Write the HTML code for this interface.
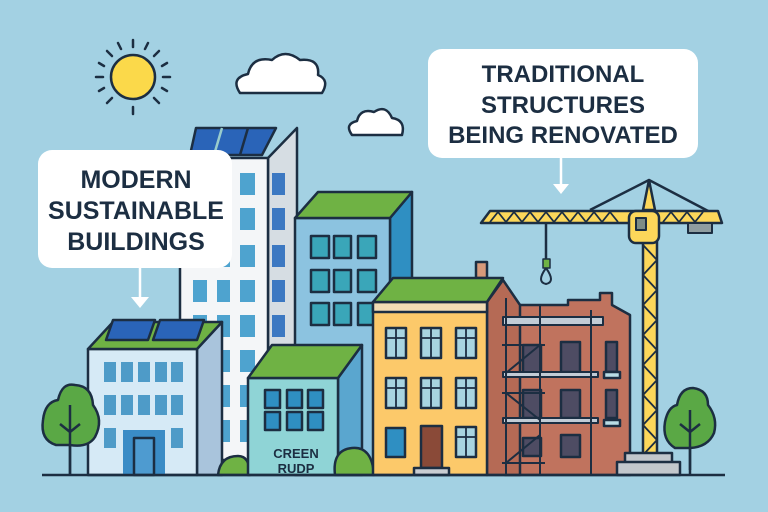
<!DOCTYPE html>
<html><head><style>
html,body{margin:0;padding:0;background:#a3d1e3;}
svg{display:block}
text{font-family:"Liberation Sans",sans-serif;font-weight:bold;fill:#1c2e42;text-anchor:middle}
</style></head><body>
<svg width="768" height="512" viewBox="0 0 768 512" xmlns="http://www.w3.org/2000/svg" stroke-linejoin="round">
<rect width="768" height="512" fill="#a3d1e3"/>
<!-- sun -->
<g stroke="#1c2e42" stroke-width="2.5" stroke-linecap="round">
<line x1="133" y1="40" x2="133" y2="47"/><line x1="133" y1="107" x2="133" y2="114"/>
<line x1="96" y1="77" x2="103" y2="77"/><line x1="163" y1="77" x2="170" y2="77"/>
<line x1="107" y1="51" x2="112" y2="56"/><line x1="154" y1="98" x2="159" y2="103"/>
<line x1="159" y1="51" x2="154" y2="56"/><line x1="112" y1="98" x2="107" y2="103"/>
<line x1="118" y1="43" x2="121" y2="49"/><line x1="148" y1="43" x2="145" y2="49"/>
<line x1="99" y1="63" x2="104" y2="66"/><line x1="167" y1="63" x2="162" y2="66"/>
<line x1="99" y1="91" x2="104" y2="88"/><line x1="167" y1="91" x2="162" y2="88"/>
<circle cx="133" cy="77" r="22" fill="#fbd94a"/>
</g>
<!-- clouds -->
<path d="M240 93 Q230 78 248 74 Q252 56 272 60 Q285 48 300 60 Q320 58 318 75 Q330 80 322 93 Z" fill="#fff" stroke="#1c2e42" stroke-width="2.5"/>
<path d="M352 135 Q344 124 357 121 Q360 108 374 112 Q386 104 392 118 Q406 120 402 135 Z" fill="#fff" stroke="#1c2e42" stroke-width="2.5"/>
<g stroke="#1c2e42" stroke-width="2.5">
<!-- tall tower -->
<polygon points="268,158 297,128 297,460 268,460" fill="#d6dde3"/>
<rect x="180" y="158" width="88" height="302" fill="#f4f6f8"/>
<polygon points="196,128 276,128 262,155 190,155" fill="#2a64b8"/>
<line x1="222" y1="128" x2="214" y2="155" stroke="#9cc"/><line x1="248" y1="128" x2="240" y2="155"/>
</g>
<g fill="#4ea3cf">
<rect x="193" y="173" width="14" height="22"/><rect x="217" y="173" width="13" height="22"/><rect x="240" y="173" width="15" height="22"/>
<rect x="193" y="208" width="14" height="22"/><rect x="217" y="208" width="13" height="22"/><rect x="240" y="208" width="15" height="22"/>
<rect x="193" y="245" width="14" height="22"/><rect x="217" y="245" width="13" height="22"/><rect x="240" y="245" width="15" height="22"/>
<rect x="193" y="280" width="14" height="22"/><rect x="217" y="280" width="13" height="22"/><rect x="240" y="280" width="15" height="22"/>
<rect x="193" y="315" width="14" height="22"/><rect x="217" y="315" width="13" height="22"/><rect x="240" y="315" width="15" height="22"/>
<rect x="217" y="350" width="13" height="22"/><rect x="240" y="350" width="15" height="22"/>
<rect x="217" y="385" width="13" height="22"/><rect x="240" y="385" width="15" height="22"/>
<rect x="217" y="420" width="13" height="22"/><rect x="240" y="420" width="15" height="22"/>
</g>
<g fill="#3c78c2">
<rect x="272" y="173" width="13" height="22"/><rect x="272" y="208" width="13" height="22"/><rect x="272" y="245" width="13" height="22"/><rect x="272" y="280" width="13" height="22"/><rect x="272" y="315" width="13" height="22"/>
</g>
<!-- teal modern building -->
<g stroke="#1c2e42" stroke-width="2.5">
<polygon points="390,218 412,192 412,475 390,475" fill="#2f8fc2"/>
<rect x="295" y="218" width="95" height="257" fill="#8cc3e0"/>
<polygon points="295,218 318,192 412,192 390,218" fill="#6fb244"/>
<rect x="311" y="236" width="18" height="22" fill="#3aa6b9"/><rect x="334" y="236" width="17" height="22" fill="#3aa6b9"/><rect x="358" y="236" width="18" height="22" fill="#3aa6b9"/>
<rect x="311" y="270" width="18" height="22" fill="#3aa6b9"/><rect x="334" y="270" width="17" height="22" fill="#3aa6b9"/><rect x="358" y="270" width="18" height="22" fill="#3aa6b9"/>
<rect x="311" y="303" width="18" height="22" fill="#3aa6b9"/><rect x="334" y="303" width="17" height="22" fill="#3aa6b9"/><rect x="358" y="303" width="18" height="22" fill="#3aa6b9"/>
</g>
<!-- callout 1 -->
<rect x="38" y="150" width="194" height="118" rx="14" fill="#fff"/>
<text x="136" y="188" font-size="25">MODERN</text>
<text x="136" y="219" font-size="25">SUSTAINABLE</text>
<text x="136" y="250" font-size="25">BUILDINGS</text>
<line x1="140" y1="268" x2="140" y2="300" stroke="#fff" stroke-width="2.5"/>
<polygon points="131,297 149,297 140,308" fill="#fff"/>
<!-- left building -->
<g stroke="#1c2e42" stroke-width="2.5">
<polygon points="197,349 222,322 222,475 197,475" fill="#a9c4dc"/>
<rect x="88" y="349" width="109" height="126" fill="#d6eaf6"/>
<polygon points="88,349 113,322 222,322 197,349" fill="#6fb244"/>
<polygon points="113,320 155,320 148,340 106,340" fill="#2a64b8"/>
<polygon points="160,320 204,320 197,340 153,340" fill="#2a64b8"/>
<rect x="123" y="430" width="42" height="45" fill="#3a8cc6" stroke="none"/>
<rect x="134" y="438" width="20" height="37" fill="#4e9bd0"/>
</g>
<g fill="#4e9bc8">
<rect x="104" y="362" width="12" height="20"/><rect x="121" y="362" width="12" height="20"/><rect x="138" y="362" width="12" height="20"/><rect x="155" y="362" width="12" height="20"/><rect x="171" y="362" width="12" height="20"/>
<rect x="104" y="395" width="12" height="20"/><rect x="121" y="395" width="12" height="20"/><rect x="138" y="395" width="12" height="20"/><rect x="155" y="395" width="12" height="20"/><rect x="171" y="395" width="12" height="20"/>
<rect x="104" y="428" width="12" height="20"/><rect x="171" y="428" width="12" height="20"/>
</g>
<!-- green roof small building -->
<g stroke="#1c2e42" stroke-width="2.5">
<path d="M218 475 Q220 456 238 456 Q250 456 250 475 Z" fill="#6fb244"/>
<polygon points="338,378 362,345 362,475 338,475" fill="#5aa6cf"/>
<rect x="248" y="378" width="90" height="97" fill="#8fd4d6"/>
<polygon points="248,378 272,345 362,345 338,378" fill="#6fb244"/>
<rect x="265" y="390" width="15" height="18" fill="#2f8fc2"/><rect x="287" y="390" width="15" height="18" fill="#2f8fc2"/><rect x="308" y="390" width="15" height="18" fill="#2f8fc2"/>
<rect x="265" y="412" width="15" height="18" fill="#2f8fc2"/><rect x="287" y="412" width="15" height="18" fill="#2f8fc2"/><rect x="308" y="412" width="15" height="18" fill="#2f8fc2"/>
<path d="M335 475 Q332 450 352 448 Q372 446 374 475 Z" fill="#6fb244"/>
</g>
<text x="296" y="458" font-size="13">CREEN</text>
<text x="296" y="473" font-size="13">RUDP</text>
<!-- brick building -->
<g stroke="#1c2e42" stroke-width="2.5">
<polygon points="505,305 568,305 568,300 600,300 600,293 612,293 612,305 630,315 630,475 505,475" fill="#c0735e"/>
<polygon points="487,302 503,280 520,305 520,475 487,475" fill="#b56a55"/>
<rect x="476" y="262" width="11" height="16" fill="#d89a7a"/>
<rect x="373" y="302" width="114" height="173" fill="#fcc96a"/>
<rect x="373" y="302" width="114" height="10" fill="#f1dcb4"/>
<polygon points="373,302 393,278 503,278 487,302" fill="#6fb244"/>
</g>
<g stroke="#1c2e42" stroke-width="2.5" fill="#a8d4e0">
<rect x="386" y="328" width="20" height="30"/><rect x="421" y="328" width="20" height="30"/><rect x="456" y="328" width="20" height="30"/>
<rect x="386" y="378" width="20" height="30"/><rect x="421" y="378" width="20" height="30"/><rect x="456" y="378" width="20" height="30"/>
<rect x="456" y="427" width="20" height="30"/>
<rect x="386" y="428" width="19" height="29" fill="#2f8fc2"/>
<rect x="421" y="426" width="21" height="42" fill="#8a4a38"/>
<rect x="414" y="468" width="35" height="7" fill="#c9cdd2"/>
<path d="M396 328v30M386 338h20M431 328v30M421 338h20M466 328v30M456 338h20M396 378v30M386 388h20M431 378v30M421 388h20M466 378v30M456 388h20M466 427v30M456 437h20" fill="none" stroke-width="1.8"/>
<rect x="523" y="345" width="18" height="28" fill="#4e4c63"/><rect x="561" y="342" width="19" height="30" fill="#4e4c63"/><rect x="606" y="342" width="11" height="30" fill="#4e4c63"/>
<rect x="523" y="390" width="18" height="28" fill="#4e4c63"/><rect x="561" y="390" width="19" height="28" fill="#4e4c63"/><rect x="606" y="390" width="11" height="28" fill="#4e4c63"/>
<rect x="523" y="438" width="18" height="18" fill="#4e4c63"/><rect x="561" y="435" width="19" height="22" fill="#4e4c63"/>
<rect x="604" y="372" width="16" height="6" fill="#b9dde6"/><rect x="604" y="420" width="16" height="6" fill="#b9dde6"/>
</g>
<!-- scaffolding -->
<g stroke="#1c2e42" stroke-width="2">
<rect x="503" y="317" width="100" height="8" fill="#c2ccd6"/>
<rect x="503" y="372" width="95" height="5" fill="#c2ccd6"/>
<rect x="503" y="418" width="95" height="5" fill="#c2ccd6"/>
<line x1="506" y1="298" x2="506" y2="475"/><line x1="540" y1="305" x2="540" y2="475"/><line x1="591" y1="310" x2="591" y2="475"/>
<line x1="502" y1="345" x2="545" y2="345"/><line x1="502" y1="393" x2="545" y2="393"/><line x1="502" y1="463" x2="545" y2="463"/>
<line x1="506" y1="373" x2="540" y2="345"/><line x1="506" y1="393" x2="540" y2="420"/><line x1="506" y1="463" x2="540" y2="435"/>
</g>
<!-- crane -->
<g stroke="#1c2e42" stroke-width="2.5">
<line x1="649" y1="180" x2="590" y2="210"/><line x1="649" y1="180" x2="710" y2="212"/>
<line x1="546" y1="223" x2="546" y2="262"/>
<rect x="543" y="259" width="7" height="9" fill="#6fb244" stroke-width="1.5"/>
<path d="M546 268 Q536 282 546 284 Q556 282 546 268" fill="none" stroke-width="2"/>
<polygon points="649,180 643,210 655,210" fill="#fcd75a"/>
<polygon points="490,211 718,211 722,223 481,223" fill="#fcd75a"/>
<polyline points="490,222 498,212 506,222 514,212 522,222 530,212 538,222 546,212 554,222 562,212 570,222 578,212 586,222 594,212 602,222 610,212 618,222" fill="none" stroke-width="1.8"/>
<polyline points="663,222 671,212 679,222 687,212 695,222 703,212" fill="none" stroke-width="1.8"/>
<rect x="688" y="223" width="24" height="10" fill="#8f9da0" stroke-width="2"/>
<rect x="643" y="240" width="14" height="215" fill="#fcd75a"/>
<polyline points="643,245 657,260 643,275 657,290 643,305 657,320 643,335 657,350 643,365 657,380 643,395 657,410 643,425 657,440 643,455" fill="none" stroke-width="1.8"/>
<rect x="629" y="211" width="30" height="32" rx="7" fill="#fcd75a"/>
<rect x="636" y="218" width="10" height="12" fill="#7d8c86" stroke-width="2"/>
<rect x="625" y="453" width="47" height="10" fill="#c2c7cc"/>
<rect x="617" y="462" width="63" height="13" fill="#c2c7cc"/>
</g>
<!-- trees -->
<g stroke="#1c2e42" stroke-width="2.5">
<path d="M70 475V412M70 425l-10-8M70 425l10-8" fill="none"/>
<path d="M56 445 Q40 440 43 420 Q45 402 58 400 Q62 382 75 385 Q92 386 93 405 Q104 420 95 437 Q88 448 70 445 Z" fill="#5aa845"/>
<path d="M70 475V405M70 432l-10-8M70 432l10-8" fill="none"/>
<path d="M690 470V430" fill="none"/>
<path d="M675 448 Q662 440 665 422 Q668 407 677 405 Q680 388 693 388 Q708 390 708 405 Q718 418 714 433 Q708 447 690 448 Z" fill="#5aa845"/>
<path d="M690 475V410M690 432l-10-8M690 432l10-8" fill="none"/>
</g>
<line x1="42" y1="475" x2="725" y2="475" stroke="#1c2e42" stroke-width="2.5"/>
<!-- callout 2 -->
<rect x="428" y="49" width="270" height="109" rx="14" fill="#fff"/>
<text x="563" y="82" font-size="24">TRADITIONAL</text>
<text x="563" y="113" font-size="24">STRUCTURES</text>
<text x="563" y="143" font-size="24">BEING RENOVATED</text>
<line x1="561" y1="158" x2="561" y2="186" stroke="#fff" stroke-width="2.5"/>
<polygon points="553,184 569,184 561,194" fill="#fff"/>
</svg>
</body></html>
